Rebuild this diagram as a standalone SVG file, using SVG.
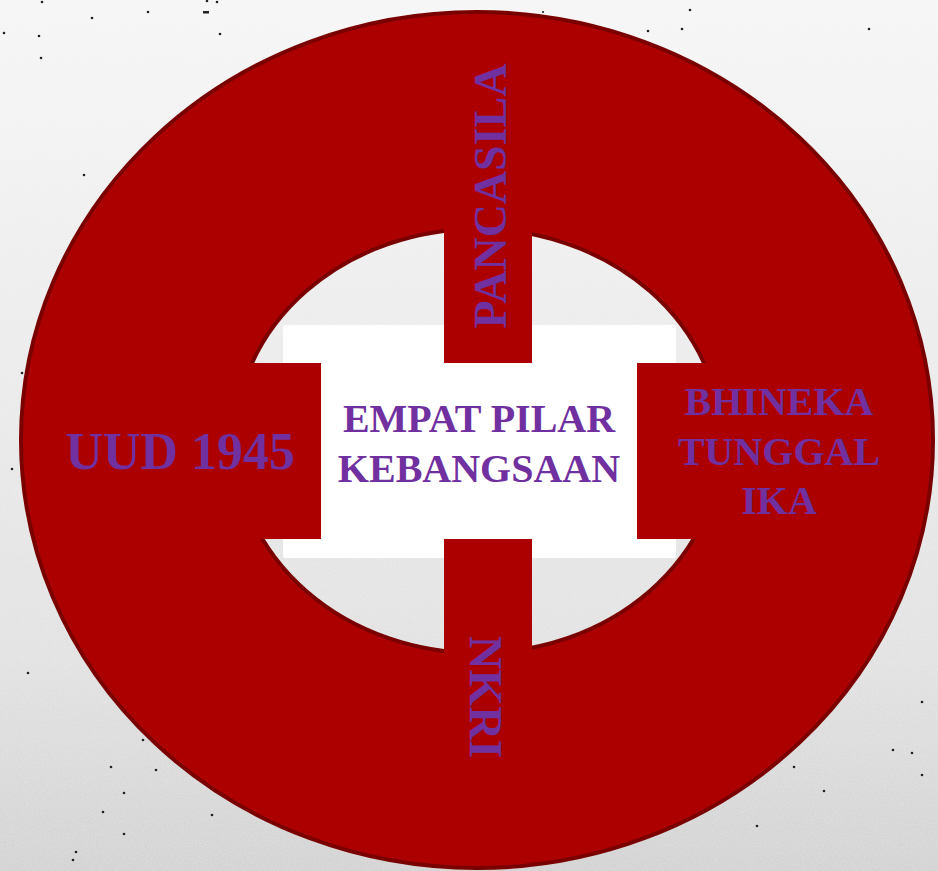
<svg xmlns="http://www.w3.org/2000/svg" width="938" height="871" viewBox="0 0 938 871">
  <defs>
    <linearGradient id="bg" x1="0" y1="0" x2="0" y2="1">
      <stop offset="0" stop-color="#f6f6f6"/>
      <stop offset="0.4" stop-color="#ececec"/>
      <stop offset="0.76" stop-color="#e2e2e2"/>
      <stop offset="1" stop-color="#d3d3d3"/>
    </linearGradient>
    <filter id="noise" x="0" y="0" width="100%" height="100%">
      <feTurbulence type="fractalNoise" baseFrequency="0.9" numOctaves="2" seed="3" result="n"/>
      <feColorMatrix in="n" type="matrix" values="0 0 0 0 1  0 0 0 0 1  0 0 0 0 1  0 0 0 0.9 -0.35" result="w"/>
      <feComposite in="w" in2="SourceGraphic" operator="in"/>
    </filter>
  </defs>
  <style>
    .lbl { font-family: "Liberation Serif", "Times New Roman", serif; font-weight: bold; fill: #7030A0; text-anchor: middle; }
    .red { fill: #AC0000; }
    .dot { fill: #222; }
  </style>

  <!-- background -->
  <rect x="0" y="0" width="938" height="871" fill="url(#bg)"/>
  <rect x="0" y="0" width="938" height="871" fill="#ffffff" filter="url(#noise)" opacity="0.5"/>
  <g id="speckles">
    <circle class="dot" cx="42" cy="2" r="1.3"/>
    <circle class="dot" cx="92" cy="18" r="1.3"/>
    <circle class="dot" cx="148" cy="12" r="1.3"/>
    <rect class="dot" x="203" y="11" width="6" height="2.5"/>
    <circle class="dot" cx="207" cy="1" r="1.3"/>
    <circle class="dot" cx="217" cy="2" r="1.3"/>
    <circle class="dot" cx="4" cy="33" r="1.3"/>
    <circle class="dot" cx="39" cy="36" r="1.3"/>
    <circle class="dot" cx="220" cy="34" r="1.3"/>
    <circle class="dot" cx="41" cy="58" r="1.3"/>
    <circle class="dot" cx="84" cy="175" r="1.3"/>
    <circle class="dot" cx="22" cy="373" r="1.3"/>
    <circle class="dot" cx="690" cy="10" r="1.3"/>
    <circle class="dot" cx="682" cy="29" r="1.3"/>
    <circle class="dot" cx="648" cy="31" r="1.3"/>
    <circle class="dot" cx="869" cy="29" r="1.3"/>
    <circle class="dot" cx="543" cy="12" r="1.1"/>
    <circle class="dot" cx="12" cy="469" r="1.3"/>
    <circle class="dot" cx="28" cy="673" r="1.3"/>
    <circle class="dot" cx="143" cy="740" r="1.3"/>
    <circle class="dot" cx="111" cy="767" r="1.3"/>
    <circle class="dot" cx="156" cy="770" r="1.3"/>
    <circle class="dot" cx="124" cy="793" r="1.3"/>
    <circle class="dot" cx="103" cy="812" r="1.3"/>
    <circle class="dot" cx="212" cy="815" r="1.3"/>
    <circle class="dot" cx="124" cy="834" r="1.3"/>
    <circle class="dot" cx="76" cy="852" r="1.3"/>
    <circle class="dot" cx="73" cy="860" r="1.3"/>
    <circle class="dot" cx="922" cy="702" r="1.3"/>
    <circle class="dot" cx="893" cy="750" r="1.3"/>
    <circle class="dot" cx="912" cy="753" r="1.3"/>
    <circle class="dot" cx="922" cy="775" r="1.3"/>
    <circle class="dot" cx="794" cy="767" r="1.3"/>
    <circle class="dot" cx="824" cy="791" r="1.3"/>
    <circle class="dot" cx="757" cy="826" r="1.3"/>
  </g>

  <!-- ring -->
  <g id="ring">
    <path fill="#AC0000" stroke="#7A0000" stroke-width="4" fill-rule="evenodd"
      d="M 21 440 A 456 428 0 1 0 933 440 A 456 428 0 1 0 21 440 Z M 235 441 A 243 212 0 1 1 721 441 A 243 212 0 1 1 235 441 Z"/>
  </g>

  <!-- center -->
  <g id="center">
    <rect x="283" y="325" width="393" height="233" rx="2" fill="#ffffff"/>
    <text class="lbl" x="479" y="432" font-size="40">EMPAT PILAR</text>
    <text class="lbl" x="479" y="482" font-size="40">KEBANGSAAN</text>
  </g>

  <!-- pillars -->
  <g id="pancasila">
    <rect class="red" x="444" y="220" width="88" height="143"/>
    <text class="lbl" font-size="46" transform="translate(506,196) rotate(-90)">PANCASILA</text>
  </g>
  <g id="nkri">
    <rect class="red" x="444" y="539" width="88" height="122"/>
    <text class="lbl" font-size="47" transform="translate(470,697) rotate(90)">NKRI</text>
  </g>
  <g id="uud1945">
    <rect class="red" x="230" y="363" width="91" height="176"/>
    <text class="lbl" x="180" y="469" font-size="52">UUD 1945</text>
  </g>
  <g id="bhineka">
    <rect class="red" x="637" y="363" width="95" height="176"/>
    <text class="lbl" x="779" y="415" font-size="40">BHINEKA</text>
    <text class="lbl" x="779" y="465" font-size="40">TUNGGAL</text>
    <text class="lbl" x="779" y="514" font-size="40">IKA</text>
  </g>

  <g id="connectors"/>
</svg>
